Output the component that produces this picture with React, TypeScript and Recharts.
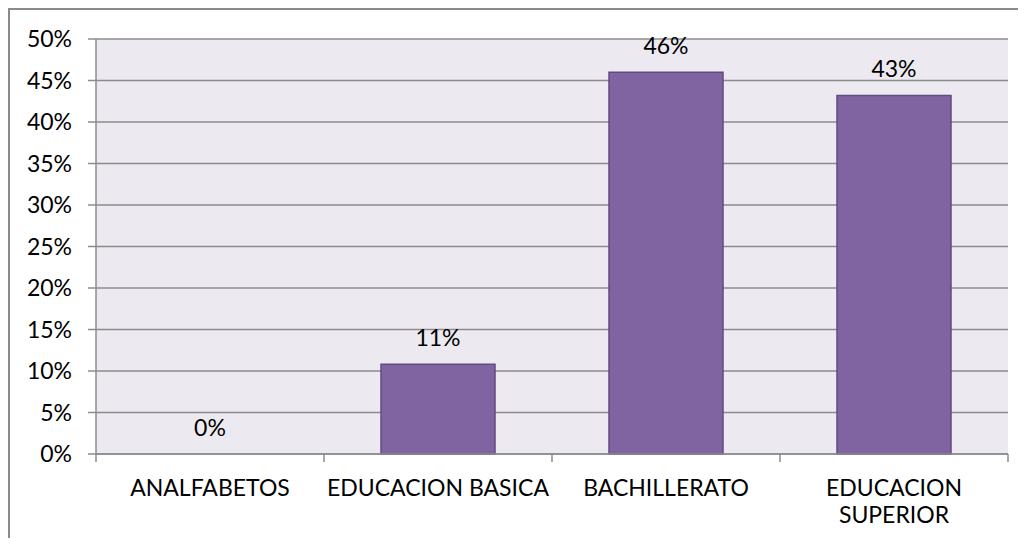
import React from "react";
import { BarChart, Bar, Line, XAxis, YAxis, CartesianGrid, LabelList } from "recharts";

const categories = ["ANALFABETOS", "EDUCACION BASICA", "BACHILLERATO", "EDUCACION SUPERIOR"];
const percentages = [0, 10.8, 46.0, 43.2];
const yTicks = [0, 5, 10, 15, 20, 25, 30, 35, 40, 45, 50];

const data = categories.map((c, i) => ({ name: c, value: percentages[i] }));

const FONT = "Lato, 'Open Sans', sans-serif";
const FS = 23;
const GRID = "#8c8c8c";
const TICK_SIZE = 8;
const TICK_MARGIN = 18;
const PLOT_WIDTH = 912;

let ctx: CanvasRenderingContext2D | null = null;
function measure(s: string): number {
  if (!ctx && typeof document !== "undefined") {
    ctx = document.createElement("canvas").getContext("2d");
  }
  if (!ctx) return s.length * FS * 0.6;
  ctx.font = `${FS}px ${FONT}`;
  return ctx.measureText(s).width;
}

function wrap(label: string, maxWidth: number): string[] {
  const words = label.split(" ");
  const lines: string[] = [];
  let cur = "";
  for (const w of words) {
    const test = cur ? cur + " " + w : w;
    if (cur && measure(test) > maxWidth) {
      lines.push(cur);
      cur = w;
    } else {
      cur = test;
    }
  }
  if (cur) lines.push(cur);
  return lines;
}

const CatTick = (props: any) => {
  const { x, y, payload, index, visibleTicksCount } = props;
  const count = visibleTicksCount || categories.length;
  const band = PLOT_WIDTH / count;
  const axisY = y - TICK_SIZE - TICK_MARGIN;
  const lines = wrap(String(payload.value), band - 2);
  return (
    <g>
      <line x1={x - band / 2} x2={x - band / 2} y1={axisY} y2={axisY + TICK_SIZE} stroke={GRID} strokeWidth={1.5} />
      {index === count - 1 && (
        <line x1={x + band / 2} x2={x + band / 2} y1={axisY} y2={axisY + TICK_SIZE} stroke={GRID} strokeWidth={1.5} />
      )}
      <text x={x} y={y} textAnchor="middle" fontSize={FS} fontFamily={FONT} fill="#000">
        {lines.map((l, i) => (
          <tspan key={i} x={x} dy={i === 0 ? "0.71em" : 27}>
            {l}
          </tspan>
        ))}
      </text>
    </g>
  );
};

export default function App() {
  return (
    <div
      style={{
        width: 1018,
        height: 530,
        borderLeft: "2px solid #8a8a8a",
        borderTop: "2px solid #8a8a8a",
        boxSizing: "border-box",
        overflow: "hidden",
        background: "#fff",
      }}
    >
      <BarChart
        width={1016}
        height={519}
        data={data}
        margin={{ top: 29, right: 18, bottom: 0, left: 0 }}
        barCategoryGap="25%"
      >
        <CartesianGrid vertical={false} stroke={GRID} strokeWidth={1.5} fill="#ECEAF0" fillOpacity={1} />
        <XAxis
          dataKey="name"
          type="category"
          height={75}
          tickLine={false}
          axisLine={{ stroke: GRID, strokeWidth: 1.5 }}
          tickSize={TICK_SIZE}
          tickMargin={TICK_MARGIN}
          interval={0}
          tick={<CatTick />}
        />
        <YAxis
          domain={[0, 50]}
          ticks={yTicks}
          interval={0}
          width={86}
          tickFormatter={(v: number) => `${v}%`}
          axisLine={{ stroke: GRID, strokeWidth: 1.5 }}
          tickLine={{ stroke: GRID, strokeWidth: 1.5 }}
          tickSize={8}
          tickMargin={16}
          tick={{ fill: "#000", fontSize: FS, fontFamily: FONT }}
        />
        <Bar dataKey="value" fill="#8064A2" stroke="#5f4b80" strokeWidth={1.5} isAnimationActive={false} />
        <Line
          dataKey="value"
          stroke="none"
          dot={false}
          activeDot={false}
          legendType="none"
          isAnimationActive={false}
        >
          <LabelList
            dataKey="value"
            position="top"
            offset={18}
            formatter={(v: any) => `${Math.round(Number(v))}%`}
            style={{ fill: "#000", fontSize: FS, fontFamily: FONT }}
          />
        </Line>
      </BarChart>
    </div>
  );
}
